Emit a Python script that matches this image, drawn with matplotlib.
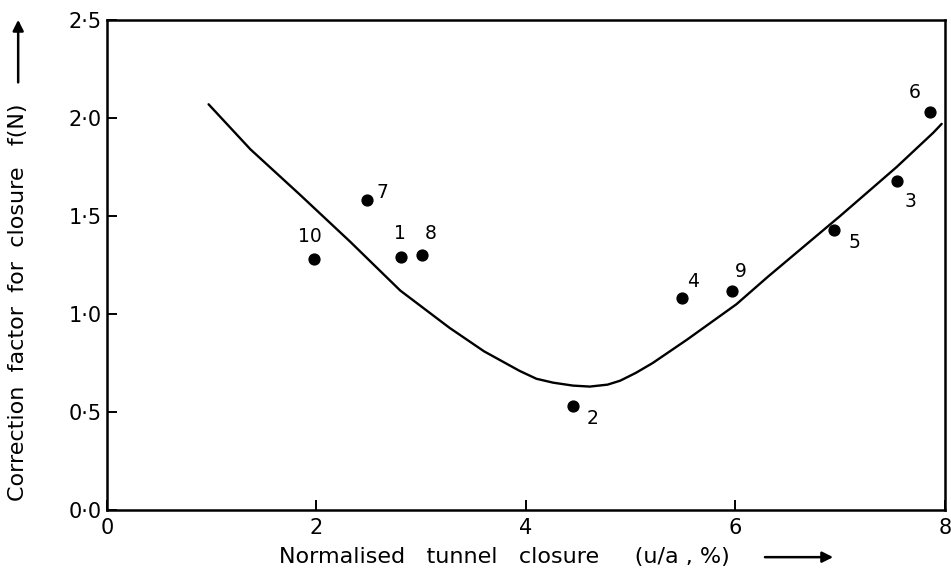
import numpy as np
import matplotlib.pyplot as plt
from matplotlib.ticker import FuncFormatter

# Measured points: tunnel closure (u/a, %) and correction factor f(N)
case_id = ["1", "2", "3", "4", "5", "6", "7", "8", "9", "10"]
closure = [2.81, 4.45, 7.54, 5.49, 6.94, 7.86, 2.48, 3.01, 5.97, 1.98]
factor = [1.29, 0.53, 1.68, 1.08, 1.43, 2.03, 1.58, 1.30, 1.12, 1.28]

# label offsets in points (dx, dy)
label_off = [(-1, 17), (14, -9), (10, -15), (8, 12), (15, -9),
             (-11, 14), (11, 6), (6, 16), (6, 14), (-3, 16)]

# design curve
curve_x = [0.97, 1.37, 1.84, 2.16, 2.32, 2.80, 3.27, 3.60, 3.94, 4.10,
           4.26, 4.45, 4.61, 4.78, 4.90, 5.05, 5.21, 5.54, 6.01, 6.31,
           7.00, 7.54, 7.89, 7.97]
curve_y = [2.07, 1.84, 1.61, 1.45, 1.37, 1.12, 0.93, 0.81, 0.71, 0.67,
           0.65, 0.635, 0.63, 0.64, 0.66, 0.70, 0.75, 0.87, 1.05, 1.19,
           1.50, 1.75, 1.925, 1.97]

plt.rcParams['font.family'] = ['DejaVu Sans']

fig = plt.figure(figsize=(9.51, 5.79), dpi=100)
ax = fig.add_axes([0.1125, 0.119, 0.881, 0.8465])

ax.plot(curve_x, curve_y, color='black', lw=1.7, solid_joinstyle='round',
        solid_capstyle='round')
ax.plot(closure, factor, 'o', color='black', ms=7.8)

for lab, x, y, (dx, dy) in zip(case_id, closure, factor, label_off):
    ax.annotate(lab, (x, y), xytext=(dx, dy), textcoords='offset points',
                ha='center', va='center', fontsize=13.5)

ax.set_xlim(0, 8)
ax.set_ylim(0, 2.5)
ax.set_xticks([0, 2, 4, 6, 8])
ax.set_yticks([0, 0.5, 1.0, 1.5, 2.0, 2.5])
ax.yaxis.set_major_formatter(FuncFormatter(lambda v, p: f"{v:.1f}".replace('.', '\u00b7')))
ax.tick_params(direction='in', length=7, width=1.4, labelsize=15, pad=6)
ax.tick_params(axis='y', pad=4)
for s in ax.spines.values():
    s.set_linewidth(1.8)

# axis titles, each followed by a solid arrow
ax.set_xlabel("Normalised   tunnel   closure     (u/a , %)", fontsize=16, va='center')
ax.set_ylabel("Correction  factor  for  closure   f(N)", fontsize=16, va='center')
ax.xaxis.set_label_coords(0.474, -0.096)
ax.yaxis.set_label_coords(-0.106, 0.424)
arrow = dict(arrowstyle='-|>', color='black', lw=1.8, mutation_scale=16)
ax.annotate("", xy=(0.870, -0.096), xytext=(0.782, -0.096),
            xycoords='axes fraction', arrowprops=arrow, annotation_clip=False)
ax.annotate("", xy=(-0.106, 1.006), xytext=(-0.106, 0.867),
            xycoords='axes fraction', arrowprops=arrow, annotation_clip=False)

fig.savefig("out.png", dpi=100)
